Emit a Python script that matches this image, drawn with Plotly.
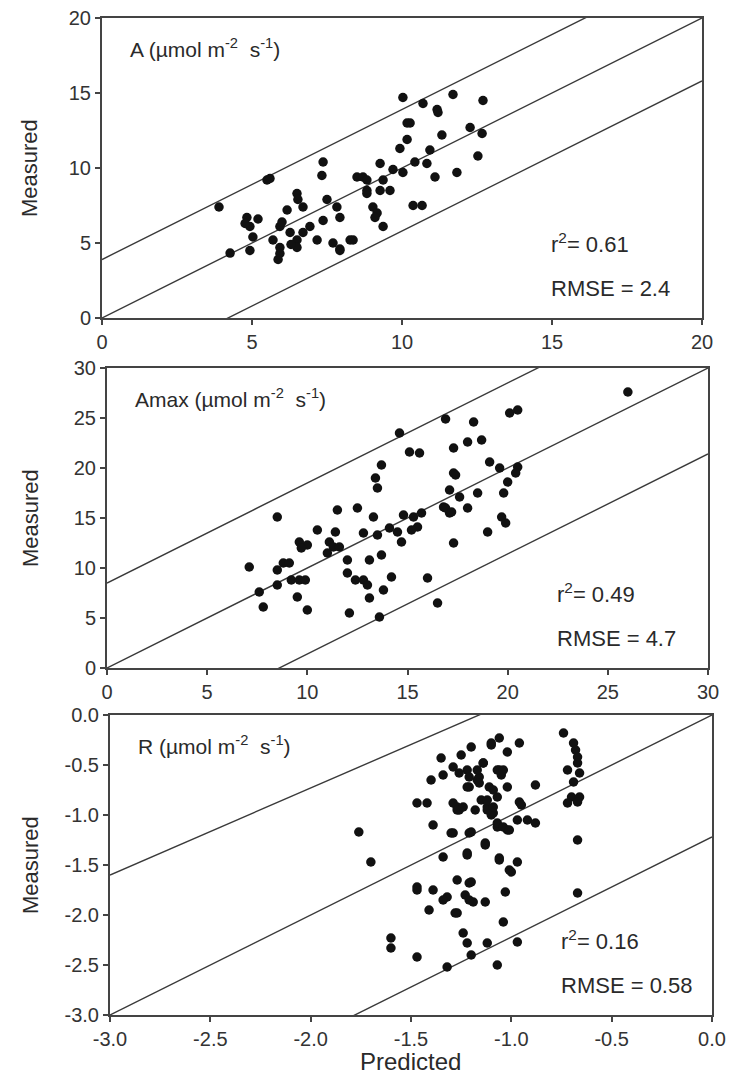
import plotly.graph_objects as go

# ---------------- data ----------------
# Panel A (photosynthesis)
a_pred = [3.9, 4.27, 5.5, 5.6, 7.37, 7.33, 4.83, 4.93, 4.77, 5.03, 4.93, 5.93, 5.87, 6.5, 6.53,
          6.17, 6.7, 5.93, 6.27, 6.5, 6.7, 6.93, 7.17, 6.5, 7.37, 7.5, 7.83, 7.93, 7.7, 7.93,
          8.37, 8.5, 8.7, 8.83, 5.7, 5.93, 10.03, 10.7, 11.17, 11.2, 11.7, 12.7, 10.27, 10.17,
          10.17, 9.93, 11.33, 12.27, 12.67, 10.93, 10.43, 10.83, 12.53, 11.1, 11.83, 9.27, 9.7,
          10.03, 8.83, 9.37, 8.83, 9.27, 9.6, 9.03, 9.17, 9.1, 10.37, 10.67, 9.37, 8.27, 7.93,
          5.2, 6.0, 6.3]
a_meas = [7.4, 4.33, 9.2, 9.3, 10.4, 9.5, 6.7, 6.1, 6.3, 5.4, 4.5, 4.3, 3.9, 8.3, 7.9,
          7.2, 7.4, 6.1, 5.7, 5.2, 5.7, 6.1, 5.2, 4.7, 6.5, 7.9, 7.4, 6.7, 5.0, 4.5,
          5.2, 9.4, 9.4, 8.5, 5.2, 4.7, 14.7, 14.3, 13.9, 13.7, 14.9, 14.5, 13.0, 13.0,
          11.9, 11.3, 12.2, 12.7, 12.3, 11.2, 10.4, 10.3, 10.8, 9.4, 9.7, 10.3, 9.9,
          9.7, 9.2, 9.2, 8.3, 8.5, 8.5, 7.4, 7.0, 6.7, 7.5, 7.5, 6.1, 5.2, 4.6,
          6.6, 6.4, 4.9]

# Panel Amax
m_pred = [16.3, 16.9, 14.6, 15.1, 15.6, 17.3, 13.7, 13.4, 13.5, 17.3, 8.5, 11.5, 12.5, 13.3,
          10.5, 11.4, 12.8, 13.5, 9.6, 10.0, 9.7, 11.1, 11.3, 11.6, 11.0, 14.1, 14.5, 14.8,
          15.3, 15.7, 15.5, 15.2, 16.8, 17.1, 14.7, 17.3, 7.1, 8.8, 9.1, 8.5, 8.5, 7.6, 7.8,
          9.2, 9.6, 9.9, 9.5, 10.0, 12.0, 13.1, 13.7, 12.0, 12.4, 12.8, 13.0, 14.2, 13.8,
          13.1, 12.1, 13.6, 16.0, 16.5, 26.0, 18.3, 20.1, 20.5, 18.0, 18.7, 19.1, 19.6, 20.5,
          20.4, 20.0, 17.4, 17.1, 17.6, 18.0, 16.9, 17.2, 18.5, 19.8, 19.7, 19.9, 19.0]
m_meas = [30.1, 24.9, 23.5, 21.6, 21.5, 22.0, 20.3, 19.0, 18.0, 19.5, 15.1, 15.8, 16.0, 15.1,
          13.8, 13.6, 13.5, 13.3, 12.6, 12.3, 12.0, 12.6, 12.1, 12.1, 11.5, 14.0, 13.6, 15.3,
          15.1, 15.5, 14.1, 13.8, 16.1, 15.5, 12.6, 12.5, 10.1, 10.5, 10.5, 9.8, 8.3, 7.6, 6.1,
          8.8, 8.8, 8.8, 7.1, 5.8, 10.8, 10.8, 11.3, 9.5, 8.8, 8.8, 8.3, 9.1, 7.8,
          7.0, 5.5, 5.1, 9.0, 6.5, 27.6, 24.6, 25.5, 25.8, 22.6, 22.8, 20.6, 20.0, 20.1,
          19.5, 18.6, 19.3, 17.8, 17.1, 16.0, 16.0, 15.6, 17.5, 17.5, 15.1, 14.5, 13.6]

# Panel R (respiration)
r_pred = [-1.76, -1.70, -1.60, -1.60, -1.47, -1.47, -1.47, -0.74, -0.69, -0.68, -0.67, -0.67,
          -0.72, -0.66, -0.69, -0.70, -0.66, -0.72, -0.67, -0.67, -0.67, -0.88, -0.96, -1.06,
          -1.10, -1.02, -1.20, -1.29, -1.22, -1.14, -1.06, -1.17, -1.11, -1.02, -1.21, -1.29,
          -1.26, -1.12, -1.07, -1.09, -0.96, -1.07, -1.02, -0.97, -0.92, -0.88, -1.29, -1.20,
          -1.13, -1.22, -1.06, -0.97, -1.00, -1.27, -1.21, -1.23, -1.19, -1.13, -1.03, -1.27,
          -1.04, -1.24, -1.22, -1.12, -0.97, -1.20, -1.07, -1.42, -1.40, -1.35, -1.39, -1.47,
          -1.39, -1.34, -1.41, -1.32, -1.34, -1.27, -1.30, -1.32, -1.28, -1.16, -1.15, -1.25,
          -1.18, -1.10, -1.05, -0.95,
          -1.10, -1.26, -1.21, -1.17, -1.14, -1.07, -1.04, -1.22, -1.16, -1.09, -1.27, -1.24,
          -1.12, -1.12, -1.09, -1.07, -1.04, -1.01, -1.21, -1.13, -1.22, -1.06, -1.01, -1.20,
          -1.34, -1.21]
r_meas = [-1.17, -1.47, -2.23, -2.33, -0.88, -1.72, -2.42, -0.18, -0.28, -0.35, -0.42, -0.48,
          -0.55, -0.58, -0.67, -0.82, -0.82, -0.88, -0.87, -1.25, -1.78, -0.70, -0.28, -0.23,
          -0.30, -0.37, -0.32, -0.52, -0.55, -0.48, -0.55, -0.65, -0.72, -0.72, -0.72, -0.88,
          -0.95, -0.92, -0.82, -0.98, -0.87, -1.12, -1.15, -1.05, -1.05, -1.08, -1.18, -1.17,
          -1.30, -1.40, -1.43, -1.47, -1.57, -1.65, -1.68, -1.80, -1.87, -1.87, -1.77, -1.98,
          -2.07, -2.18, -2.28, -2.28, -2.27, -2.40, -2.50, -0.88, -0.65, -0.43, -1.10, -1.75,
          -1.75, -1.42, -1.95, -2.52, -0.60, -0.92, -1.18, -1.82, -1.98, -0.62, -0.85, -0.40,
          -0.95, -1.00, -0.60, -0.90,
          -0.28, -0.58, -0.62, -0.55, -0.48, -0.55, -0.55, -0.72, -0.68, -0.75, -0.95, -0.92,
          -0.85, -0.95, -0.92, -1.08, -1.12, -1.15, -1.18, -1.28, -1.38, -1.45, -1.55, -1.67,
          -1.85, -1.85]

panel_titles = ["A (µmol m<sup>-2</sup>  s<sup>-1</sup>)",
                "Amax (µmol m<sup>-2</sup>  s<sup>-1</sup>)",
                "R (µmol m<sup>-2</sup>  s<sup>-1</sup>)"]
r2_texts = ["r<sup>2</sup>= 0.61", "r<sup>2</sup>= 0.49", "r<sup>2</sup>= 0.16"]
rmse_texts = ["RMSE = 2.4", "RMSE = 4.7", "RMSE = 0.58"]

ranges = [(0, 20), (0, 30), (-3, 0)]
ticks_a = [0, 5, 10, 15, 20]
ticks_m = [0, 5, 10, 15, 20, 25, 30]
ticks_r = [-3.0, -2.5, -2.0, -1.5, -1.0, -0.5, 0.0]
ticktext_r = ["-3.0", "-2.5", "-2.0", "-1.5", "-1.0", "-0.5", "0.0"]

# reference lines: (slope, intercept) for upper, 1:1, lower
ref_lines = [
    [(1.0, 3.9), (1.0, 0.0), (1.0, -4.2)],
    [(1.0, 8.5), (1.0, 0.0), (1.0, -8.6)],
    [(0.87, 1.01), (1.0, 0.0), (1.0, -1.22)],
]

# --------------- layout geometry ---------------
W, H = 739, 1082
boxes = [(102, 702, 18, 318), (107, 708, 368, 668), (110, 712, 715, 1015)]  # px l, r, top, bottom

fig = go.Figure()
pred = [a_pred, m_pred, r_pred]
meas = [a_meas, m_meas, r_meas]
tickvals = [ticks_a, ticks_m, ticks_r]
ticktexts = [[str(v) for v in ticks_a], [str(v) for v in ticks_m], ticktext_r]

line_col = "#3a3a3a"
txt_col = "#2a2a2a"
font_family = "Liberation Sans, Arial, sans-serif"

layout_axes = {}
annotations = []
for i in range(3):
    xa = "x" if i == 0 else f"x{i+1}"
    ya = "y" if i == 0 else f"y{i+1}"
    lo, hi = ranges[i]
    for slope, icpt in ref_lines[i]:
        fig.add_trace(go.Scatter(x=[lo, hi], y=[slope * lo + icpt, slope * hi + icpt],
                                 mode="lines", line=dict(color=line_col, width=1.4),
                                 xaxis=xa, yaxis=ya, showlegend=False, hoverinfo="skip"))
    fig.add_trace(go.Scatter(x=pred[i], y=meas[i], mode="markers",
                             marker=dict(color="#111111", size=9.5),
                             xaxis=xa, yaxis=ya, showlegend=False, cliponaxis=False))
    l, r, t, b = boxes[i]
    common = dict(showgrid=False, zeroline=False, showline=True, mirror=True,
                  linecolor="#444444", linewidth=2, ticks="outside", ticklen=5,
                  tickwidth=1.5, tickcolor="#444444", automargin=False,
                  tickfont=dict(family=font_family, size=20, color="#333333"),
                  range=[lo, hi], tickmode="array", tickvals=tickvals[i], ticktext=ticktexts[i],
                  fixedrange=True)
    layout_axes["xaxis" if i == 0 else f"xaxis{i+1}"] = dict(
        common, domain=[l / W, r / W], anchor=ya)
    layout_axes["yaxis" if i == 0 else f"yaxis{i+1}"] = dict(
        common, domain=[1 - b / H, 1 - t / H], anchor=xa)

    def px_to_x(px):
        return lo + (px - l) / (r - l) * (hi - lo)

    def py_to_y(py):
        return lo + (b - py) / (b - t) * (hi - lo)

    annotations.append(dict(x=px_to_x(l + 26), y=py_to_y(t + 30), xref=xa, yref=ya,
                            text=panel_titles[i], showarrow=False, xanchor="left",
                            yanchor="middle", font=dict(family=font_family, size=21, color=txt_col)))
    annotations.append(dict(x=px_to_x(r - 153), y=py_to_y(b - 75), xref=xa, yref=ya,
                            text=r2_texts[i], showarrow=False, xanchor="left",
                            yanchor="middle", font=dict(family=font_family, size=22, color=txt_col)))
    annotations.append(dict(x=px_to_x(r - 153), y=py_to_y(b - 30), xref=xa, yref=ya,
                            text=rmse_texts[i], showarrow=False, xanchor="left",
                            yanchor="middle", font=dict(family=font_family, size=22, color=txt_col)))
    annotations.append(dict(x=30 / W, y=1 - (t + b) / 2 / H, xref="paper", yref="paper",
                            text="Measured", textangle=-90, showarrow=False,
                            xanchor="center", yanchor="middle",
                            font=dict(family=font_family, size=22, color=txt_col)))

annotations.append(dict(x=410 / W, y=1 - 1061 / H, xref="paper", yref="paper",
                        text="Predicted", showarrow=False, xanchor="center", yanchor="middle",
                        font=dict(family=font_family, size=24, color=txt_col)))

fig.update_layout(width=W, height=H, margin=dict(l=0, r=0, t=0, b=0),
                  paper_bgcolor="white", plot_bgcolor="white", hovermode=False,
                  annotations=annotations, **layout_axes)

fig.write_html("out.html", config={"displayModeBar": False},
               post_script="document.body.style.margin='0';document.body.style.overflow='hidden';")
